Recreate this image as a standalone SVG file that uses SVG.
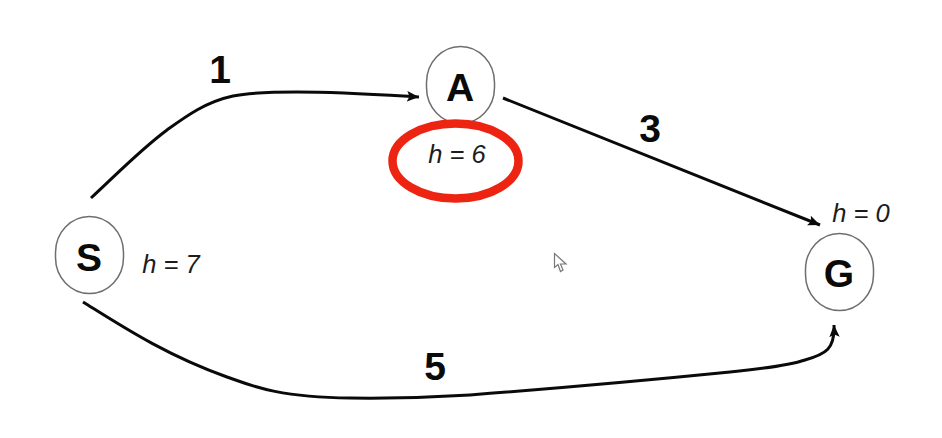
<svg xmlns="http://www.w3.org/2000/svg" width="942" height="438" viewBox="0 0 942 438">
<style>
text{font-family:"Liberation Sans",Arial,sans-serif;text-anchor:middle}
.node{fill:#fff;stroke:#6e6e6e;stroke-width:1.500}
.name{font-size:39px;font-weight:bold;fill:#0a0a0a}
.h{font-size:25.500px;font-style:italic;fill:#1c1c1c}
.w{font-size:39px;font-weight:bold;fill:#0a0a0a}
.edge{fill:none;stroke:#0a0a0a;stroke-width:3}
</style>
<defs>
<marker id="arrow" markerUnits="userSpaceOnUse" markerWidth="14" markerHeight="12" refX="12" refY="6" orient="auto">
<path d="M0 0.800L12 6L0 11.200L2.500 6Z" fill="#0a0a0a"/>
</marker>
</defs>
<rect width="942" height="438" fill="#fff"/>
<g id="connectors">
<path class="edge" marker-end="url(#arrow)" d="M91 198C115 176 140 150 167 130C185 117 205 102 233 96C250 92.500 275 92 297 92C340 92 385 95 419 97"/>
<path class="edge" marker-end="url(#arrow)" d="M503 98L820 225"/>
<path class="edge" marker-end="url(#arrow)" d="M83 302C120 325 165 355 227 377C250 385 275 397 350 398C390 398.500 430 397.500 470 395C560 388 650 380 730 372C765 368.500 790 365 805 360C826 354 835 349 834 325"/>
<text class="w" x="220" y="83">1</text>
<text class="w" x="650" y="142">3</text>
<text class="w" x="435" y="380">5</text>
</g>
<g id="node-s">
<rect class="node" x="55.500" y="216.500" width="68" height="77" rx="34" ry="36"/>
<text class="name" x="89" y="271">S</text>
<text class="h" x="171" y="273">h = 7</text>
</g>
<g id="node-a">
<rect class="node" x="426.500" y="46.500" width="68" height="77" rx="34" ry="36"/>
<text class="name" x="460" y="101">A</text>
</g>
<g id="node-g">
<rect class="node" x="805.500" y="233.500" width="68" height="77" rx="34" ry="36"/>
<text class="name" x="839" y="287">G</text>
<text class="h" x="861" y="222">h = 0</text>
</g>
<g id="highlight">
<ellipse cx="455.500" cy="161" rx="63" ry="37.500" fill="#fff" stroke="#ee2412" stroke-width="8.500"/>
<text class="h" x="457" y="163">h = 6</text>
</g>
<path id="cursor" d="M554.500 253.500L554.500 267.500L558 264.500L560.500 271.500L563 270L560.500 264L566 264Z" fill="#fff" stroke="#777" stroke-width="1.200"/>
</svg>
